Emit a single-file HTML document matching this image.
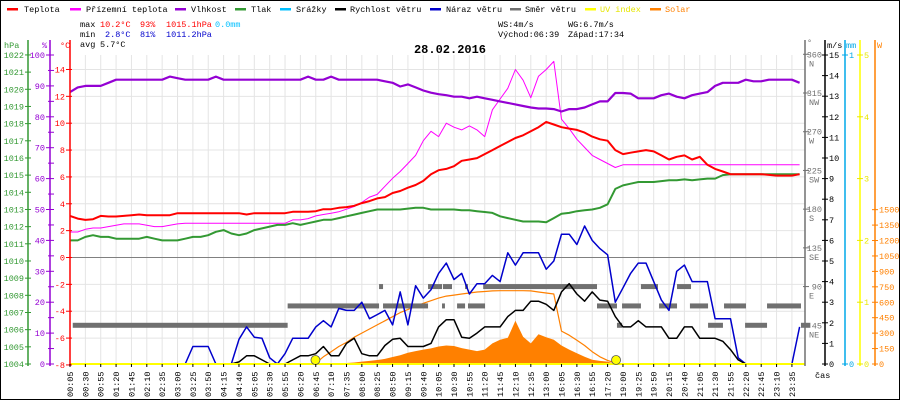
<!DOCTYPE html>
<html><head><meta charset="utf-8"><title>28.02.2016</title>
<style>
html,body{margin:0;padding:0;background:#fff;}
svg{display:block;font-family:"Liberation Mono",monospace;}
</style></head>
<body>
<svg id="chart" width="900" height="400" viewBox="0 0 900 400" xmlns="http://www.w3.org/2000/svg">
<rect x="0.5" y="0.5" width="899" height="399" fill="#fff" stroke="#000"/>
<g id="grid"></g>
<g id="series"></g>
<g id="axes"></g>
<g font-size="8.5">
  <g><rect x="7" y="8" width="11" height="2.5" fill="#f00"/><text x="24" y="12">Teplota</text></g>
  <g><rect x="70" y="8" width="11" height="2.5" fill="#f0f"/><text x="86" y="12">Přízemní teplota</text></g>
  <g><rect x="175" y="8" width="11" height="2.5" fill="#9400d3"/><text x="191" y="12">Vlhkost</text></g>
  <g><rect x="235" y="8" width="11" height="2.5" fill="#339933"/><text x="251" y="12">Tlak</text></g>
  <g><rect x="280" y="8" width="11" height="2.5" fill="#00bfff"/><text x="296" y="12">Srážky</text></g>
  <g><rect x="335" y="8" width="11" height="2.5" fill="#000"/><text x="350" y="12">Rychlost větru</text></g>
  <g><rect x="430" y="8" width="11" height="2.5" fill="#0000cc"/><text x="446" y="12">Náraz větru</text></g>
  <g><rect x="510" y="8" width="11" height="2.5" fill="#707070"/><text x="525" y="12">Směr větru</text></g>
  <g><rect x="585" y="8" width="11" height="2.5" fill="#ffff00"/><text x="600" y="12" fill="#e6e600">UV index</text></g>
  <g><rect x="650" y="8" width="11" height="2.5" fill="#ff8000"/><text x="665" y="12" fill="#ff8000">Solar</text></g>
</g>
<g font-size="8.5">
  <text x="80" y="27">max</text><text x="100" y="27" fill="#f00">10.2°C</text><text x="140" y="27" fill="#f00">93%</text><text x="166" y="27" fill="#f00">1015.1hPa</text><text x="215" y="27" fill="#00bfff">0.0mm</text>
  <text x="80" y="37">min</text><text x="105" y="37" fill="#0000cc">2.8°C</text><text x="140" y="37" fill="#0000cc">81%</text><text x="166" y="37" fill="#0000cc">1011.2hPa</text>
  <text x="80" y="47">avg</text><text x="100" y="47">5.7°C</text>
  <text x="498" y="27">WS:4m/s</text><text x="568" y="27">WG:6.7m/s</text>
  <text x="498" y="37">Východ:06:39</text><text x="568" y="37">Západ:17:34</text>
</g>
<text x="450" y="53" font-size="12" font-weight="bold" text-anchor="middle">28.02.2016</text>
</svg>
<script>
// ---- data (sampled every 12.5 min, index k -> label index k/2) ----
const timeLabels = ["00:05","00:30","00:55","01:20","01:45","02:10","02:35","03:00","03:25","03:50","04:15","04:40","05:05","05:30","05:55","06:20","06:45","07:10","07:35","08:00","08:25","08:50","09:15","09:40","10:05","10:30","10:55","11:20","11:45","12:10","12:35","13:00","16:05","16:30","16:55","17:20","19:00","19:25","19:50","20:15","20:40","21:05","21:30","21:55","22:20","22:45","23:10","23:35"];
const humidity = [88,89.5,90,90,90,91,92,92,92,92,92,92,92,93,92.5,92,92,92,92,93,92,92,92,92,92,92,92,92,92,92,92,93,92,92,93,92,92,92,92,92,92,91.5,91,89.8,90.5,89.5,88.5,87.8,87.3,87,86.5,86.5,86,86.5,86,85.5,85,84.5,84,83.5,83,82.7,82.7,82.5,81.7,82.5,82.5,83,84,85,85,87.7,87.7,87.5,86,86,86,87,87.5,86.5,86,87,87.5,88,90,91,91,91,92,91.5,91.5,92,92,92,92,91];
const temperature = [3.1,2.9,2.8,2.85,3.1,3.05,3.05,3.1,3.15,3.2,3.15,3.15,3.15,3.15,3.3,3.3,3.3,3.3,3.3,3.3,3.3,3.3,3.3,3.2,3.3,3.3,3.3,3.3,3.3,3.4,3.4,3.4,3.45,3.6,3.6,3.7,3.75,3.85,4.05,4.2,4.4,4.5,4.8,4.95,5.2,5.4,5.7,6.2,6.5,6.6,6.8,7.2,7.3,7.4,7.7,8.0,8.3,8.6,8.9,9.1,9.4,9.7,10.1,9.9,9.7,9.6,9.5,9.3,9.0,8.8,8.7,8.0,7.7,7.8,7.9,8.0,7.9,7.6,7.3,7.5,7.6,7.3,7.5,6.9,6.6,6.4,6.2,6.2,6.2,6.2,6.2,6.15,6.1,6.1,6.1,6.2];
const apparentTemp = [1.9,1.9,2.1,2.2,2.2,2.3,2.4,2.5,2.5,2.5,2.4,2.3,2.3,2.4,2.5,2.55,2.55,2.55,2.55,2.55,2.55,2.55,2.55,2.55,2.55,2.55,2.55,2.55,2.55,2.8,2.8,2.9,3.1,3.2,3.3,3.4,3.6,3.8,4.1,4.5,4.7,5.3,5.9,6.4,7.0,7.6,8.7,9.4,9.0,10.0,9.7,9.5,9.8,9.5,9.0,11.0,11.8,12.6,14.0,13.2,11.9,13.5,14.0,14.6,10.3,9.6,8.8,8.2,7.6,7.3,7.0,6.7,6.9,6.9,6.9,6.9,6.9,6.9,6.9,6.9,6.9,6.9,6.9,6.9,6.9,6.9,6.9,6.9,6.9,6.9,6.9,6.9,6.9,6.9,6.9,6.9];
const pressure = [1011.2,1011.2,1011.4,1011.5,1011.4,1011.4,1011.3,1011.3,1011.3,1011.3,1011.4,1011.3,1011.2,1011.2,1011.2,1011.3,1011.4,1011.4,1011.5,1011.7,1011.8,1011.6,1011.5,1011.6,1011.8,1011.9,1012.0,1012.1,1012.1,1012.2,1012.1,1012.2,1012.3,1012.4,1012.4,1012.5,1012.6,1012.7,1012.8,1012.9,1013.0,1013.0,1013.0,1013.0,1013.05,1013.1,1013.1,1013.0,1013.0,1013.0,1013.0,1012.95,1012.95,1012.9,1012.85,1012.8,1012.6,1012.5,1012.4,1012.3,1012.3,1012.3,1012.25,1012.5,1012.75,1012.8,1012.9,1012.95,1013.0,1013.1,1013.3,1014.2,1014.4,1014.5,1014.6,1014.6,1014.6,1014.65,1014.7,1014.7,1014.75,1014.7,1014.75,1014.8,1014.8,1015.0,1015.05,1015.05,1015.05,1015.05,1015.05,1015.05,1015.05,1015.05,1015.05,1015.05];
const windGust = [0,0,0,0,0,0,0,0,0,0,0,0,0,0,0,0,0.85,0.85,0.85,0,0,0,1.2,1.8,1.3,1.25,0.3,0,0.5,1.25,1.25,1.25,1.8,2.1,1.8,2.7,2.6,2.6,3.0,2.2,2.4,2.6,1.9,3.5,1.9,3.8,3.2,3.6,4.4,4.9,4.1,4.4,3.4,3.9,3.9,4.3,4.0,5.4,4.8,5.4,5.4,5.4,4.6,5.0,6.3,6.3,5.8,6.7,6.0,5.6,5.3,3.0,3.7,4.4,4.9,4.9,4.0,3.1,2.6,4.5,4.8,4.0,4.0,4.0,2.2,2.2,2.2,0.3,0,0,0,0,0,0,0,1.8];
const windSpeed = [0,0,0,0,0,0,0,0,0,0,0,0,0,0,0,0,0,0,0,0,0,0,0.1,0.4,0.4,0.2,0,0,0,0.2,0.4,0.4,0.5,0.85,0.4,0.4,1.0,1.25,0.5,0.4,0.4,0.9,1.2,1.25,0.85,0.85,0.85,1.0,1.8,2.15,2.15,1.3,1.25,1.5,1.8,1.8,1.8,2.3,2.6,2.6,3.05,3.05,2.9,2.6,3.5,3.9,3.4,3.05,3.5,3.1,3.05,2.3,1.8,1.8,2.1,1.8,1.8,1.8,1.25,1.25,1.8,1.8,1.25,1.25,1.25,1.1,0.7,0.2,0,0,0,0,0,0,0,0];
const solar = [0,0,0,0,0,0,0,0,0,0,0,0,0,0,0,0,0,0,0,0,0,0,0,0,0,0,0,0,0,0,0,0,0,0,3,5,10,15,23,30,39,50,68,85,110,125,140,152,170,180,175,155,140,125,140,200,235,255,420,265,200,290,260,235,180,140,105,70,42,30,23,0,0,0,0,0,0,0,0,0,0,0,0,0,0,0,0,0,0,0,0,0,0,0,0,0];
const solarMax = [0,0,0,0,0,0,0,0,0,0,0,0,0,0,0,0,0,0,0,0,0,0,0,0,0,0,0,0,0,0,0,0,10,70,120,170,210,260,300,340,380,420,460,500,530,560,590,615,640,660,670,680,690,700,705,710,712,712,712,712,710,700,690,680,320,280,230,180,120,70,35,10,0,0,0,0,0,0,0,0,0,0,0,0,0,0,0,0,0,0,0,0,0,0,0,0];
// wind direction segments (label-index start/end, degrees)
const dirStart = [0.18,14.17,20.12,20.38,23.31,24.22,24.28,25.2,25.72,25.91,26.9,34.31,35.61,35.94,37.17,38.35,39.52,40.36,41.54,42.58,43.95,45.38,47.59];
const dirEnd   = [14.17,20.12,20.38,23.31,24.22,24.41,24.87,25.72,25.91,27.02,34.31,35.61,35.94,37.17,38.28,39.52,40.43,41.54,42.51,44.01,45.38,47.59,48.2];
const dirDeg   = [45,67.5,90,67.5,90,67.5,90,67.5,90,67.5,90,67.5,45,67.5,90,67.5,90,67.5,45,67.5,45,67.5,45];
const uvEventIdx = [15.98,35.55]; // sunrise / sunset markers

// ---- scales ----
const X0=70, X1=805, Y0=364, YT=55, STEP=15.36;
const xIdx = u => X0 + u*STEP;
const xK = k => xIdx(k/2);
const yT = v => 257.5 - v*13.43;
const yH = v => Y0 - v*3.09;
const yP = v => Y0 - (v-1004)*17.17;
const yW = v => Y0 - v*20.6;
const yS = v => Y0 - v*0.1029;
const yD = v => Y0 - v*0.8603;
const yUV = v => Y0 - v*61.8;

const NS="http://www.w3.org/2000/svg";
function mk(tag, attrs, parent){const e=document.createElementNS(NS,tag);for(const a in attrs)e.setAttribute(a,attrs[a]);parent.appendChild(e);return e;}
const grid=document.getElementById('grid'), ser=document.getElementById('series'), ax=document.getElementById('axes');

// grid
timeLabels.forEach((t,i)=>{
  const l=mk('line',{x1:xIdx(i),x2:xIdx(i),y1:YT,y2:Y0,stroke:'#e4e4e4','stroke-width':1},grid);
  
  
});
for(let v=-6;v<=14;v+=2){
  const l=mk('line',{x1:X0,x2:X1,y1:yT(v),y2:yT(v),stroke:'#e4e4e4','stroke-width':1},grid);
  
  
}
const zl=mk('line',{x1:X0,x2:X1,y1:yT(0),y2:yT(0),stroke:'#808080','stroke-width':1},grid);



function pathFrom(arr, yf){return arr.map((v,k)=>(k?'L':'M')+xK(k).toFixed(1)+','+yf(v).toFixed(1)).join(' ');}
function line(arr,yf,color,w,name){
  const p=mk('path',{d:pathFrom(arr,yf),fill:'none',stroke:color,'stroke-width':w,'stroke-linejoin':'round'},ser);
  
  
  return p;
}
// solar area
{
  let d='M'+xK(0)+','+Y0+' '+solar.map((v,k)=>'L'+xK(k).toFixed(1)+','+yS(v).toFixed(1)).join(' ')+' L'+xK(solar.length-1)+','+Y0+' Z';
  const a=mk('path',{d:d,fill:'#ff8000',stroke:'none'},ser);
  
  
}
line(solarMax,yS,'#ff8000',1.2,'solar-max-line');
// wind direction
dirDeg.forEach((d,i)=>{
  const r=mk('rect',{x:xIdx(dirStart[i]),y:yD(d)-2.5,width:Math.max(1,xIdx(dirEnd[i])-xIdx(dirStart[i])),height:5,fill:'#707070'},ser);
  
  
});
line(windGust,yW,'#0000cc',1.5,'wind-gust-line');
line(windSpeed,yW,'#000',1.5,'wind-speed-line');
line(pressure,yP,'#339933',2,'pressure-line');
line(apparentTemp,yT,'#ff00ff',1,'apparent-temperature-line');
line(temperature,yT,'#ff0000',2,'temperature-line');
line(humidity,yH,'#9400d3',2.2,'humidity-line');
// UV baseline and sun markers
const uvl=mk('line',{x1:X0,x2:X1,y1:Y0,y2:Y0,stroke:'#ffff00','stroke-width':2},ser);


uvEventIdx.forEach(u=>{
  const c=mk('circle',{cx:xIdx(u),cy:Y0-4,r:4.5,fill:'#ffff00',stroke:'#555','stroke-width':0.8},ser);
  
  
});

// axes
function vline(x,y1,y2,color,name){const l=mk('line',{x1:x,x2:x,y1:y1,y2:y2,stroke:color,'stroke-width':1.5},ax);}
function txt(x,y,s,color,anchor,name,size){const t=mk('text',{x:x,y:y,fill:color,'text-anchor':anchor||'start','font-size':size||8.5},ax);t.textContent=s;return t;}
function tick(x1,x2,y,color){mk('line',{x1:x1,x2:x2,y1:y,y2:y,stroke:color,'stroke-width':1},ax);}
const G='#339933',P='#9400d3',R='#ff0000',GR='#707070',C='#00a8e8',YL='#e8e800',O='#ff8000';
vline(28,40,366,G,'pressure-axis'); vline(50,40,366,P,'humidity-axis'); vline(70,40,366,R,'temperature-axis');
txt(4,48,'hPa',G,'start','pressure-axis-title'); txt(42,48,'%',P,'start','humidity-axis-title'); txt(60,48,'°C',R,'start','temperature-axis-title');
const hpaTicks=[1004,1005,1006,1007,1008,1009,1010,1011,1012,1013,1014,1015,1016,1017,1018,1019,1020,1021,1022];
hpaTicks.forEach(v=>{tick(25,31,yP(v),G);txt(24,yP(v)+3,String(v),G,'end','pressure-tick-label');});
for(let v=0;v<=100;v+=5){tick(v%10?48:46,54,yH(v),P);}
[0,10,20,30,40,50,60,70,80,90,100].forEach(v=>txt(45,yH(v)+3,String(v),P,'end','humidity-tick-label'));
[-8,-6,-4,-2,0,2,4,6,8,10,12,14].forEach(v=>{tick(66,72,yT(v),R);txt(65,yT(v)+3,String(v),R,'end','temperature-tick-label');});
// right axes
vline(805,40,366,GR,'wind-direction-axis'); vline(825,40,366,'#000','wind-speed-axis'); vline(845,40,366,C,'rain-axis'); vline(860,40,366,'#ffff00','uv-axis'); vline(875,40,366,O,'solar-axis');
txt(807,45,'°',GR,'start','wind-direction-axis-title'); txt(827,48,'m/s','#000','start','wind-speed-axis-title'); txt(846,48,'mm',C,'start','rain-axis-title'); txt(877,48,'W',O,'start','solar-axis-title');
const dirTicks=[45,90,135,180,225,270,315,360], dirNames=['NE','E','SE','S','SW','W','NW','N'];
dirTicks.forEach((d,i)=>{tick(803,809,yD(d),GR);txt(822,yD(d)+3,String(d),GR,'end','wind-direction-tick-label');txt(809,yD(d)+12,dirNames[i],GR,'start','wind-direction-name');});
for(let v=0;v<=15;v++){tick(822,828,yW(v),'#000');txt(829,yW(v)+3,String(v),'#000','start','wind-speed-tick-label');}
[0,1].forEach(v=>{tick(842,848,Y0-v*309,C);txt(849,Y0-v*309+3,String(v),C,'start','rain-tick-label');});
[0,1,2,3,4,5].forEach(v=>{tick(857,863,yUV(v),YL);txt(864,yUV(v)+3,String(v),YL,'start','uv-tick-label');});
[0,150,300,450,600,750,900,1050,1200,1350,1500].forEach(v=>{tick(872,878,yS(v),O);txt(879,yS(v)+3,String(v),O,'start','solar-tick-label');});
// time labels
timeLabels.forEach((t,i)=>{
  const x=xIdx(i);
  tick(x,x,Y0,'#000'); mk('line',{x1:x,x2:x,y1:Y0,y2:Y0+3,stroke:'#000'},ax);
  const e=mk('text',{x:0,y:0,'font-size':8.5,transform:'translate('+(x+3)+',397) rotate(-90)'},ax);
  e.textContent=t;
  
  
});
txt(815,378,'čas','#000','start','time-axis-title');
</script>
</body></html>
